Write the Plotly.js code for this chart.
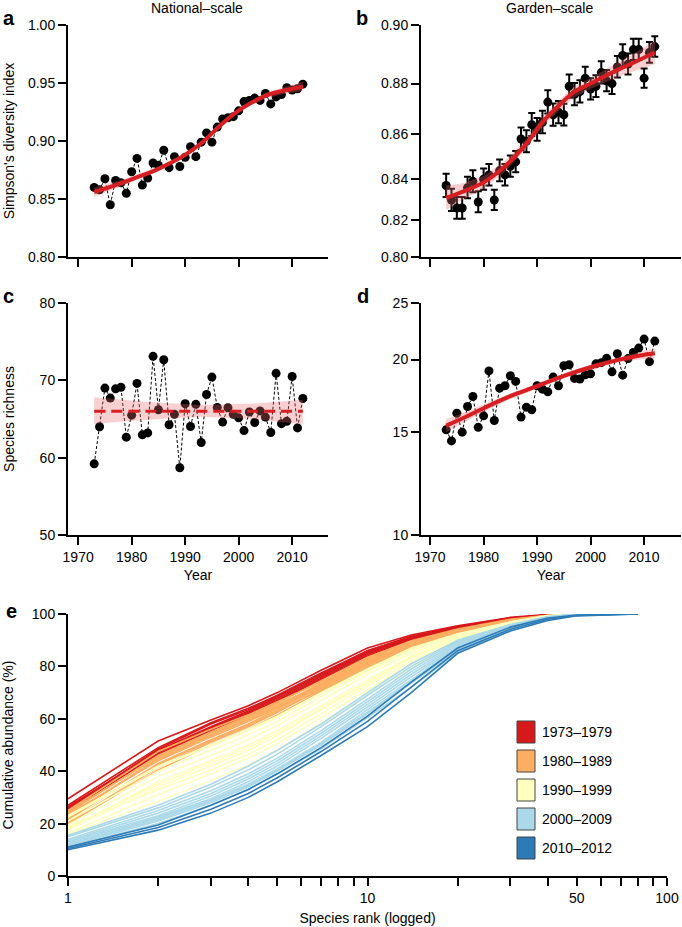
<!DOCTYPE html>
<html><head><meta charset="utf-8">
<script src="https://cdn.plot.ly/plotly-3.0.1.min.js"></script>
<style>html,body{margin:0;padding:0;background:#fff}#chart{width:682px;height:927px}</style>
</head><body><div id="chart"></div>
<script>
// ---------- data ----------
const years = [1973,1974,1975,1976,1977,1978,1979,1980,1981,1982,1983,1984,1985,1986,1987,1988,1989,1990,1991,1992,1993,1994,1995,1996,1997,1998,1999,2000,2001,2002,2003,2004,2005,2006,2007,2008,2009,2010,2011,2012];
const nationalSimpson = [0.860,0.858,0.8675,0.845,0.866,0.864,0.855,0.8735,0.885,0.862,0.868,0.881,0.879,0.892,0.877,0.8865,0.878,0.886,0.895,0.8865,0.899,0.907,0.899,0.912,0.919,0.920,0.921,0.926,0.934,0.935,0.937,0.935,0.941,0.932,0.938,0.940,0.946,0.944,0.945,0.949];
const gardenSimpson = [0.837,0.830,0.826,0.826,0.836,0.839,0.829,0.840,0.842,0.830,0.844,0.842,0.846,0.848,0.858,0.857,0.864,0.862,0.865,0.873,0.868,0.869,0.868,0.879,0.876,0.877,0.882,0.878,0.879,0.884,0.881,0.880,0.886,0.890,0.887,0.892,0.892,0.882,0.891,0.893];
const gardenSimpsonSE = [0.0055,0.0055,0.0055,0.0055,0.0052,0.0052,0.0052,0.005,0.005,0.005,0.005,0.005,0.0048,0.0048,0.0048,0.0047,0.0047,0.0047,0.0046,0.0045,0.0045,0.0044,0.0044,0.0043,0.0042,0.0042,0.0041,0.004,0.004,0.004,0.0039,0.0039,0.0038,0.0038,0.0037,0.0036,0.0036,0.0035,0.0035,0.0034];
const nationalRichness = [59.2,64.0,69.0,67.7,68.9,69.1,62.65,65.5,69.6,62.95,63.2,73.1,66.2,72.66,64.25,65.6,58.7,66.97,64.03,66.9,61.96,68.17,70.42,66.5,64.6,66.45,65.6,65.15,63.5,65.9,64.55,66.05,65.25,63.25,70.9,64.4,64.7,70.5,63.85,67.65];
const gardenRichness = [15.15,14.5,16.18,15.01,16.61,17.28,15.30,16.01,19.12,15.72,17.86,18.03,18.76,18.34,15.93,16.57,16.40,18.03,17.79,17.60,18.66,18.03,19.51,19.59,18.56,18.52,18.83,18.9,19.66,19.75,20.09,19.05,20.46,18.8,20.07,20.57,20.92,21.68,19.83,21.51];

// fitted trends and confidence bands
const fitYearsA = [1973,1977,1980,1985,1990,1993,1996,1999,2002,2005,2008,2012];
const fitA   = [0.856,0.862,0.867,0.876,0.888,0.898,0.911,0.923,0.932,0.939,0.943,0.947];
const fitLoA = [0.852,0.859,0.8645,0.874,0.886,0.896,0.909,0.921,0.930,0.9365,0.940,0.943];
const fitHiA = [0.860,0.865,0.8695,0.878,0.890,0.900,0.913,0.925,0.934,0.9415,0.946,0.951];

const fitYearsB = [1973,1976,1980,1984,1988,1991,1994,1997,2000,2004,2008,2012];
const fitB   = [0.831,0.834,0.8385,0.846,0.856,0.865,0.8715,0.877,0.880,0.884,0.8875,0.891];
const fitLoB = [0.825,0.830,0.8355,0.8435,0.854,0.863,0.8695,0.875,0.878,0.8815,0.8845,0.887];
const fitHiB = [0.837,0.838,0.8415,0.8485,0.858,0.867,0.8735,0.879,0.882,0.8865,0.8905,0.895];

const fitYearsC = [1973,1983,1993,2003,2012];
const fitC   = [66.0,66.0,66.0,66.0,66.0];
const fitLoC = [64.4,64.9,65.3,65.0,64.3];
const fitHiC = [67.8,67.2,66.8,67.0,67.5];

const fitYearsD = [1973,1977,1980,1985,1990,1995,2000,2005,2009,2012];
const fitD   = [15.4,16.0,16.5,17.3,18.0,18.75,19.4,19.95,20.3,20.5];
const fitLoD = [15.0,15.7,16.25,17.1,17.8,18.55,19.2,19.75,20.0,20.1];
const fitHiD = [15.8,16.3,16.75,17.5,18.2,18.95,19.6,20.15,20.6,20.9];

// tick values
const yearTicks = [1970,1980,1990,2000,2010];
const ticksA = [0.80,0.85,0.90,0.95,1.00];
const ticksB = [0.80,0.82,0.84,0.86,0.88,0.90];
const ticksC = [50,60,70,80];
const ticksD = [10,15,20,25];
const ticksE = [0,20,40,60,80,100];
const rankTicks = [1,2,3,4,5,6,7,8,9,10,20,30,40,50,60,70,80,90,100];
const rankLabels = ['1','','','','','','','','','10','','','','50','','','','','100'];

// panel e: cumulative abundance (%) at species ranks, one row per year
const ranks = [1,2,3,4,5,7,10,14,20,30,40,50,80];
const curves1970s = [
 [29.5,51.5,59.5,65,70,78.5,87,92,95.5,98.7,99.8,100,100],
 [27,49,58.5,64,69,77.5,86,91.5,95.2,98.5,99.7,100,100],
 [26,48,57,63,68,76.5,85.5,91,95,98.4,99.6,100,100],
 [26.5,47.5,56.5,62.5,67.5,76,85,90.8,94.8,98.3,99.6,100,100],
 [25.5,48.5,58,63.5,68.5,77,86,91.2,95,98.5,99.7,100,100],
 [25,46.5,55.5,61.5,66.5,75,84,90.2,94.5,98.2,99.5,100,100],
 [25.8,47,56,62,67,75.5,84.5,90.5,94.6,98.2,99.5,100,100]];
const curves1980s = [
 [24,46,55,61,66,74.5,83.5,89.8,94.3,98,99.5,100,100],
 [25,47.5,56,61.5,66.5,74,83,89.5,94,97.8,99.4,100,100],
 [22.5,45,54,60,65,73.5,82.5,89,93.8,97.6,99.3,100,100],
 [23.5,44,53,59,64,72.5,81.5,88.5,93.5,97.5,99.3,100,100],
 [21.5,43,52,58,63.5,72,81,88,93,97.3,99.2,100,100],
 [24.5,45.5,54.5,60.5,65.5,73,82,88.8,93.6,97.6,99.4,100,100],
 [20.5,41.5,51,57,62.5,71.5,80.5,87.5,92.6,97.1,99.1,100,100],
 [22,42.5,51.5,57.5,63,71,80,87,92.3,97,99,100,100],
 [23,44.5,53.5,59.5,64.5,72.8,81.8,88.3,93.2,97.4,99.2,100,100],
 [20,40.5,50,56,61.5,70.5,79.5,86.5,92,96.8,99,100,100]];
const curves1990s = [
 [22.5,41.5,49.5,55.5,60.5,69.5,78.5,86.5,92.3,96.9,99.3,100,100],
 [21,40,48,54,59,68.5,78,86,92,96.7,99.2,99.9,100],
 [19.5,38,46,52,57.5,67,77,85,91.5,96.5,99.1,99.9,100],
 [23,42,50,56,61,70,79,87,92.5,97,99.4,100,100],
 [18,36,44,50,55.5,65,75,84,91,96.3,99,99.9,100],
 [17.5,34,42,48,53.5,63.5,73.5,83,90.5,96,98.9,99.9,100],
 [19,33,40.5,46.5,52,62,72.5,82,90,95.8,98.8,99.8,100],
 [16.5,31,39,45,50.5,60.5,71,81,89.3,95.5,98.7,99.8,100],
 [18.5,35,43,49,54.5,64,74,83.5,90.8,96.2,99,99.9,100],
 [16,28.5,36.5,42.5,48,58.5,69.5,79.5,88.5,95.2,98.6,99.8,100]];
const curves2000s = [
 [15.5,27,35,42,48,58,70,81,90,96,99,99.9,100],
 [15,26,34,40.5,46.5,57,69,80,89.5,95.8,98.9,99.9,100],
 [14,25,32.5,39,45,55.5,67.5,79,89,95.6,98.8,99.9,100],
 [13.5,24,31.5,38,44,54.5,66.5,78,88.5,95.4,98.7,99.8,100],
 [13,23,30.5,37,43,53.5,65.5,77,88,95.2,98.6,99.8,100],
 [12.5,22.5,29.5,36,42,52.5,64.5,76,87.5,95,98.5,99.8,100],
 [12,22,29,35,41,51,63.5,75,87,94.8,98.4,99.8,100],
 [12,21.5,28.5,34.5,40.5,50.5,62.5,74,86.5,94.6,98.3,99.7,100],
 [11.5,21,28,34,40,50,62,73.5,86,94.4,98.2,99.7,100],
 [11,20,27,33,39,48.5,60.5,72,85.5,94.2,98.1,99.7,100]];
const curves2010s = [
 [11,19.5,27,33,39,49,61,74,87,95,98.5,99.6,100],
 [10.5,18.5,25.5,31.5,37.5,47.5,59,72,86,94.2,98,99.4,100],
 [10,17.5,24,30,36,46,57,70,85,93.5,97.5,99.3,100]];
const periodLabels = ['1973\u20131979','1980\u20131989','1990\u20131999','2000\u20132009','2010\u20132012'];
const periodColors = ['#d7191c','#fdae61','#ffffbf','#abd9e9','#2c7bb6'];

// ---------- drawing ----------
const W = 682, H = 927;
const xd = (a,b) => [a/W, b/W];
const yd = (top,bot) => [1-bot/H, 1-top/H];
const logit = p => Math.log(p/(1-p));
const RED = '#d71e22', BAND = 'rgba(236,110,115,0.32)';
const FONT = 'Liberation Sans, Arial, Helvetica, sans-serif';

function band(xs, lo, hi, xa, ya, tf) {
  tf = tf || (v=>v);
  return {x: xs.concat(xs.slice().reverse()), y: hi.map(tf).concat(lo.slice().reverse().map(tf)),
    xaxis: xa, yaxis: ya, fill: 'toself', fillcolor: BAND, line: {width: 0}, mode: 'lines',
    hoverinfo: 'skip', showlegend: false};
}
function fitLine(xs, ys, xa, ya, tf, dash) {
  tf = tf || (v=>v);
  return {x: xs, y: ys.map(tf), xaxis: xa, yaxis: ya, mode: 'lines',
    line: {color: RED, width: dash ? 3 : 4, shape: 'spline', dash: dash || 'solid'}, showlegend: false};
}
function pts(ys, xa, ya, connect) {
  return {x: years, y: ys, xaxis: xa, yaxis: ya, mode: connect ? 'lines+markers' : 'markers',
    marker: {color: '#000', size: 9}, line: {color: '#000', width: 1, dash: '3px,2px'}, showlegend: false};
}

const traces = [];
// a
traces.push(pts(nationalSimpson, 'x', 'y', true));
traces.push(band(fitYearsA, fitLoA, fitHiA, 'x', 'y'));
traces.push(fitLine(fitYearsA, fitA, 'x', 'y'));
// b (logit scale)
traces.push({x: years, y: gardenSimpson.map(logit), xaxis: 'x2', yaxis: 'y2', mode: 'markers',
  marker: {color: '#000', size: 9}, showlegend: false,
  error_y: {type: 'data', symmetric: false,
    array: gardenSimpson.map((v,i) => logit(v+gardenSimpsonSE[i]) - logit(v)),
    arrayminus: gardenSimpson.map((v,i) => logit(v) - logit(v-gardenSimpsonSE[i])),
    color: '#000', thickness: 2, width: 3.5}});
traces.push(band(fitYearsB, fitLoB, fitHiB, 'x2', 'y2', logit));
traces.push(fitLine(fitYearsB, fitB, 'x2', 'y2', logit));
// c
traces.push(pts(nationalRichness, 'x3', 'y3', true));
traces.push(band(fitYearsC, fitLoC, fitHiC, 'x3', 'y3'));
traces.push(fitLine(fitYearsC, fitC, 'x3', 'y3', null, '11px,6px'));
// d
traces.push(pts(gardenRichness, 'x4', 'y4', true));
traces.push(band(fitYearsD, fitLoD, fitHiD, 'x4', 'y4'));
traces.push(fitLine(fitYearsD, fitD, 'x4', 'y4'));
// e
[curves1970s, curves1980s, curves1990s, curves2000s, curves2010s].forEach((grp, gi) => {
  grp.forEach(row => traces.push({x: ranks, y: row, xaxis: 'x5', yaxis: 'y5', mode: 'lines',
    line: {color: periodColors[gi], width: 1.6}, showlegend: false, hoverinfo: 'skip'}));
});

const axBase = {showline: true, linecolor: '#000', linewidth: 2, ticks: 'outside', ticklen: 8,
  tickwidth: 2, tickcolor: '#000', showgrid: false, zeroline: false,
  tickfont: {size: 14, color: '#000', family: FONT}};
const titleFont = {size: 14, color: '#000', family: FONT};

const layout = {
  width: W, height: H, margin: {l: 0, r: 0, t: 0, b: 0}, paper_bgcolor: '#fff', plot_bgcolor: '#fff',
  font: {family: FONT, color: '#000'}, showlegend: false,
  xaxis:  Object.assign({}, axBase, {domain: xd(68,328), range: [1968.1,2016.7], tickvals: yearTicks, showticklabels: false, anchor: 'y'}),
  yaxis:  Object.assign({}, axBase, {domain: yd(25,257), range: [0.80,1.00], tickvals: ticksA, ticktext: ticksA.map(v=>v.toFixed(2)), anchor: 'x',
           title: {text: "Simpson's diversity index", font: titleFont, standoff: 10}}),
  xaxis2: Object.assign({}, axBase, {domain: xd(421,681), range: [1968.3,2016.9], tickvals: yearTicks, showticklabels: false, anchor: 'y2'}),
  yaxis2: Object.assign({}, axBase, {domain: yd(25,257), range: [logit(0.80), logit(0.90)], tickvals: ticksB.map(logit), ticktext: ticksB.map(v=>v.toFixed(2)), anchor: 'x2'}),
  xaxis3: Object.assign({}, axBase, {domain: xd(68,328), range: [1968.1,2016.7], tickvals: yearTicks, anchor: 'y3',
           title: {text: 'Year', font: titleFont, standoff: 6}}),
  yaxis3: Object.assign({}, axBase, {domain: yd(303,535), range: [50,80], tickvals: ticksC, anchor: 'x3',
           title: {text: 'Species richness', font: titleFont, standoff: 22}}),
  xaxis4: Object.assign({}, axBase, {domain: xd(421,681), range: [1968.3,2016.9], tickvals: yearTicks, anchor: 'y4',
           title: {text: 'Year', font: titleFont, standoff: 6}}),
  yaxis4: Object.assign({}, axBase, {domain: yd(303,535), type: 'log', range: [1, Math.log10(25)], tickvals: ticksD, ticktext: ticksD.map(String), anchor: 'x4'}),
  xaxis5: Object.assign({}, axBase, {domain: xd(68,667), type: 'log', range: [0,2], tickvals: rankTicks, ticktext: rankLabels, anchor: 'y5',
           title: {text: 'Species rank (logged)', font: titleFont, standoff: 8}}),
  yaxis5: Object.assign({}, axBase, {domain: yd(614,876), range: [0,100], tickvals: ticksE, anchor: 'x5',
           title: {text: 'Cumulative abundance (%)', font: titleFont, standoff: 16}}),
  annotations: [],
  shapes: []
};

const letter = (t, px, py) => ({text: '<b>'+t+'</b>', xref: 'paper', yref: 'paper', x: px/W, y: 1-py/H,
  xanchor: 'left', yanchor: 'middle', showarrow: false, font: {size: 20, color: '#000', family: FONT}});
layout.annotations.push(letter('a', 1, 18), letter('b', 354, 18), letter('c', 1, 296), letter('d', 355, 296), letter('e', 4, 611));
layout.annotations.push({text: 'National\u2013scale', xref: 'paper', yref: 'paper', x: 197/W, y: 1-8/H, xanchor: 'center', yanchor: 'middle', showarrow: false, font: titleFont});
layout.annotations.push({text: 'Garden\u2013scale', xref: 'paper', yref: 'paper', x: 549/W, y: 1-8/H, xanchor: 'center', yanchor: 'middle', showarrow: false, font: titleFont});

periodLabels.forEach((lab, i) => {
  const cy = 732 + i*29;
  layout.shapes.push({type: 'rect', xref: 'paper', yref: 'paper', x0: 517/W, x1: 535/W, y0: 1-(cy+11)/H, y1: 1-(cy-11)/H,
    fillcolor: periodColors[i], line: {color: '#444', width: 1}});
  layout.annotations.push({text: lab, xref: 'paper', yref: 'paper', x: 540/W, y: 1-cy/H, xanchor: 'left', yanchor: 'middle',
    showarrow: false, font: {size: 14, color: '#000', family: FONT}});
});

Plotly.newPlot('chart', traces, layout, {staticPlot: true, displayModeBar: false});
</script>
</body></html>
